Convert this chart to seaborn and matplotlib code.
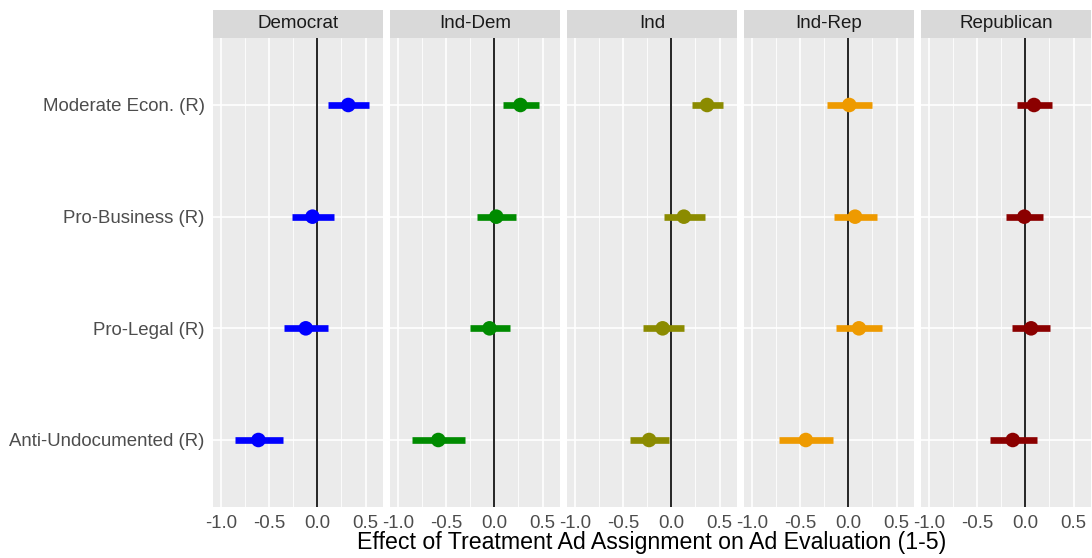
import matplotlib
matplotlib.use("Agg")
import matplotlib.pyplot as plt
import numpy as np
import pandas as pd
import seaborn as sns
from matplotlib.patches import Rectangle

# panels, outcomes and colours
parties = ["Democrat", "Ind-Dem", "Ind", "Ind-Rep", "Republican"]
outcomes = ["Moderate Econ. (R)", "Pro-Business (R)", "Pro-Legal (R)", "Anti-Undocumented (R)"]
party_colors = ["#0000FF", "#008B00", "#8B8B00", "#EE9A00", "#8B0000"]

# estimates per party (order = outcomes)
est_dem = [0.32, -0.05, -0.12, -0.61]
est_inddem = [0.27, 0.02, -0.05, -0.58]
est_ind = [0.37, 0.13, -0.09, -0.23]
est_indrep = [0.01, 0.07, 0.11, -0.44]
est_rep = [0.09, -0.01, 0.06, -0.13]

low_dem = [0.11, -0.26, -0.35, -0.85]
low_inddem = [0.09, -0.18, -0.25, -0.85]
low_ind = [0.21, -0.08, -0.29, -0.43]
low_indrep = [-0.22, -0.15, -0.13, -0.72]
low_rep = [-0.09, -0.20, -0.14, -0.37]

high_dem = [0.53, 0.17, 0.11, -0.36]
high_inddem = [0.46, 0.22, 0.16, -0.30]
high_ind = [0.54, 0.35, 0.13, -0.02]
high_indrep = [0.24, 0.30, 0.35, -0.16]
high_rep = [0.28, 0.18, 0.26, 0.12]

rows = []
for p, e, lo, hi in zip(parties,
                        [est_dem, est_inddem, est_ind, est_indrep, est_rep],
                        [low_dem, low_inddem, low_ind, low_indrep, low_rep],
                        [high_dem, high_inddem, high_ind, high_indrep, high_rep]):
    for i, o in enumerate(outcomes):
        rows.append({"party": p, "outcome": o, "est": e[i], "lo": lo[i], "hi": hi[i],
                     "ypos": len(outcomes) - i})
df = pd.DataFrame(rows)

sns.set_theme(style="darkgrid", rc={"axes.facecolor": "#EBEBEB", "grid.color": "white"})
plt.rcParams["font.family"] = ["Liberation Sans", "DejaVu Sans"]

fig, axes = plt.subplots(1, 5, figsize=(10.92, 5.58), dpi=100, sharey=True)
fig.subplots_adjust(left=213 / 1092, right=1091 / 1092, top=1 - 38 / 558,
                    bottom=1 - 507 / 558, wspace=0.041)

for ax, party, col in zip(axes, parties, party_colors):
    sub = df[df.party == party]
    ax.set_xlim(-1.08, 0.68)
    ax.set_ylim(0.4, 4.6)
    # minor grid
    for m in [-0.75, -0.25, 0.25]:
        ax.axvline(m, color="white", lw=0.6, zorder=0.5)
    ax.grid(True, which="major", color="white", lw=1.2)
    ax.axvline(0, color="black", lw=1.2, zorder=1)
    ax.hlines(sub.ypos, sub.lo, sub.hi, color=col, lw=4.8, zorder=2)
    sns.scatterplot(data=sub, x="est", y="ypos", color=col, s=110, ax=ax,
                    edgecolor="none", zorder=3, legend=False)
    ax.set_xticks([-1.0, -0.5, 0.0, 0.5])
    ax.set_xticklabels(["-1.0", "-0.5", "0.0", "0.5"])
    ax.set_xlabel("")
    ax.set_ylabel("")
    ax.tick_params(axis="x", colors="#4D4D4D", labelsize=13.4, length=4, width=0.8,
                   color="#333333", pad=2)
    for s in ax.spines.values():
        s.set_visible(False)
    # strip
    ax.add_patch(Rectangle((0, 1.0), 1, 28 / 469, transform=ax.transAxes,
                           facecolor="#D9D9D9", edgecolor="none", clip_on=False))
    ax.text(0.5, 1.0 + 14 / 469, party, transform=ax.transAxes, ha="center",
            va="center", fontsize=13.5, color="#1A1A1A")

axes[0].set_yticks([4, 3, 2, 1])
axes[0].set_yticklabels(outcomes)
axes[0].tick_params(axis="y", colors="#4D4D4D", labelsize=13.4, length=4, width=0.8,
                    color="#333333", pad=2)
for ax in axes[1:]:
    ax.tick_params(axis="y", length=0)

fig.text(652 / 1092, 1 - 543 / 558, "Effect of Treatment Ad Assignment on Ad Evaluation (1-5)",
         ha="center", va="center", fontsize=16.7, color="black")

fig.savefig("out.png", dpi=100)
